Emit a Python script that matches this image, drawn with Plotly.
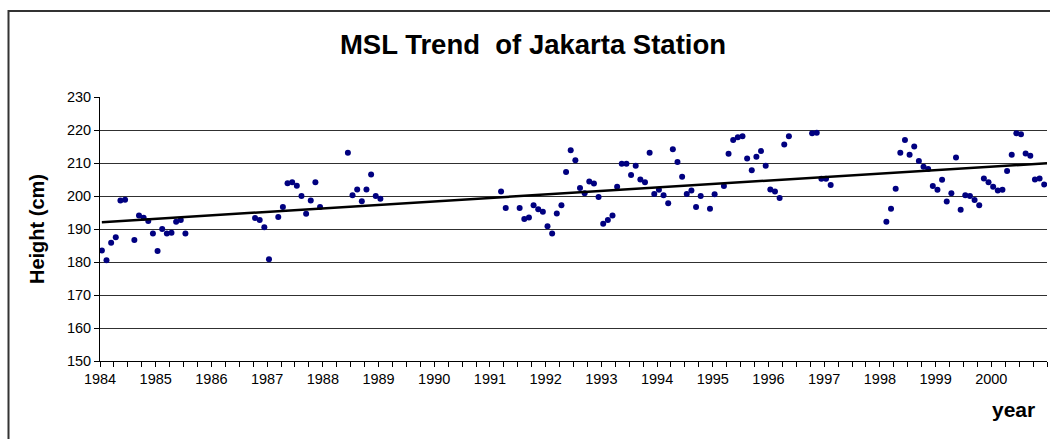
import numpy as np
import plotly.graph_objects as go

# Monthly mean sea level (cm), Jan..Dec of each year; None = no data
msl_1984 = [183.5, 180.5, 185.8, 187.5, 198.6, 198.9, None, 186.7, 194.1, 193.4, 192.4, 188.6]
msl_1985 = [183.3, 190.0, 188.6, 188.9, 192.2, 192.7, 188.6, None, None, None, None, None]
msl_1986 = [None, None, None, None, None, None, None, None, None, 193.3, 192.7, 190.5]
msl_1987 = [180.8, None, 193.6, 196.7, 203.9, 204.2, 203.1, 200.0, 194.6, 198.6, 204.2, 196.7]
msl_1988 = [None, None, None, None, None, 213.1, 200.2, 202.0, 198.4, 202.0, 206.5, 200.0]
msl_1989 = [199.2, None, None, None, None, None, None, None, None, None, None, None]
msl_1990 = [None] * 12
msl_1991 = [None, None, 201.4, 196.4, None, None, 196.4, 193.0, 193.5, 197.2, 196.0, 195.2]
msl_1992 = [190.8, 188.6, 194.7, 197.2, 207.3, 213.9, 210.8, 202.4, 200.8, 204.4, 203.8, 199.7]
msl_1993 = [191.6, 192.7, 194.1, 202.8, 209.8, 209.8, 206.4, 209.2, 205.0, 204.2, 213.1, 200.6]
msl_1994 = [201.9, 200.2, 197.8, 214.2, 210.3, 205.8, 200.6, 201.7, 196.7, 200.0, None, 196.1]
msl_1995 = [200.5, None, 203.0, 212.8, 217.0, 217.8, 218.1, 211.4, 207.8, 211.9, 213.6, 209.2]
msl_1996 = [202.0, 201.4, 199.4, 215.6, 218.1, None, None, None, None, 219.0, 219.2, 205.2]
msl_1997 = [205.2, 203.3, None, None, None, None, None, None, None, None, None, None]
msl_1998 = [None, 192.2, 196.1, 202.2, 213.1, 217.0, 212.5, 215.0, 210.6, 208.9, 208.2, 203.0]
msl_1999 = [201.9, 204.9, 198.3, 200.8, 211.7, 195.8, 200.2, 200.0, 198.8, 197.2, 205.3, 204.2]
msl_2000 = [202.8, 201.7, 201.9, 207.6, 212.5, 219.0, 218.7, 212.9, 212.2, 205.0, 205.3, 203.5]

years = list(range(1984, 2001))
year_series = [msl_1984, msl_1985, msl_1986, msl_1987, msl_1988, msl_1989, msl_1990,
               msl_1991, msl_1992, msl_1993, msl_1994, msl_1995, msl_1996, msl_1997,
               msl_1998, msl_1999, msl_2000]
tick_years = list(range(1984, 2001))

x_all, y_all = [], []
for yr, vals in zip(years, year_series):
    for m, v in enumerate(vals):
        x_all.append(yr + (m + 0.4) / 12.0)
        y_all.append(v)

xa = np.array(x_all)
ya = np.array([np.nan if v is None else v for v in y_all], dtype=float)
ok = ~np.isnan(ya)
slope, icpt = np.polyfit(xa[ok], ya[ok], 1)
tx = np.array([xa[0], 2001.0])
ty = slope * tx + icpt

font_fam = "Arial, Liberation Sans, sans-serif"

fig = go.Figure()
fig.add_trace(go.Scatter(
    x=x_all, y=y_all, mode="markers",
    marker=dict(size=6, color="#000080", line=dict(width=0)),
    showlegend=False, hoverinfo="x+y"))
fig.add_trace(go.Scatter(
    x=tx, y=ty, mode="lines",
    line=dict(color="black", width=2.5),
    showlegend=False, hoverinfo="skip"))

fig.update_layout(
    width=1050, height=439,
    margin=dict(l=100, r=3, t=97, b=78),
    paper_bgcolor="white", plot_bgcolor="white",
    font=dict(family=font_fam, color="black"),
    title=dict(text="<b>MSL Trend  of Jakarta Station</b>",
               x=533 / 1050, xanchor="center",
               y=1 - 44 / 439, yanchor="middle", yref="container",
               font=dict(size=27.5, family=font_fam, color="black")),
    xaxis=dict(range=[1984, 2001], tickvals=tick_years, ticktext=[str(t) for t in tick_years],
               showgrid=False, zeroline=False,
               showline=True, linecolor="black", linewidth=1,
               ticks="outside", ticklen=5, tickcolor="black", tickwidth=1,
               minor=dict(dtick=0.25, tick0=1984, ticks="outside", ticklen=5,
                          tickcolor="black", tickwidth=1, showgrid=False),
               tickfont=dict(size=14.5, family=font_fam, color="black")),
    yaxis=dict(range=[150, 230], dtick=10, tick0=150,
               showgrid=True, gridcolor="#303030", gridwidth=1, zeroline=False,
               showline=True, linecolor="black", linewidth=1,
               ticks="outside", ticklen=5, tickcolor="black", tickwidth=1,
               tickfont=dict(size=14.5, family=font_fam, color="black")),
    annotations=[
        dict(text="<b>Height (cm)</b>", textangle=-90, xref="paper", yref="paper",
             x=(37 - 100) / 947, y=0.5, xanchor="center", yanchor="middle",
             showarrow=False, font=dict(size=20, family=font_fam, color="black")),
        dict(text="<b>year</b>", xref="paper", yref="paper",
             x=(1013 - 100) / 947, y=(361 - 409) / 264, xanchor="center", yanchor="middle",
             showarrow=False, font=dict(size=21, family=font_fam, color="black")),
    ],
    shapes=[dict(type="rect", xref="paper", yref="paper",
                 x0=(8.5 - 100) / 947, x1=1.2, y0=-1.0, y1=(361 - 11) / 264,
                 line=dict(color="#333333", width=2), fillcolor="rgba(0,0,0,0)", layer="below")],
)

fig.write_html("out.html", config={"displayModeBar": False},
               post_script="document.body.style.margin='0';document.body.style.overflow='hidden';")
